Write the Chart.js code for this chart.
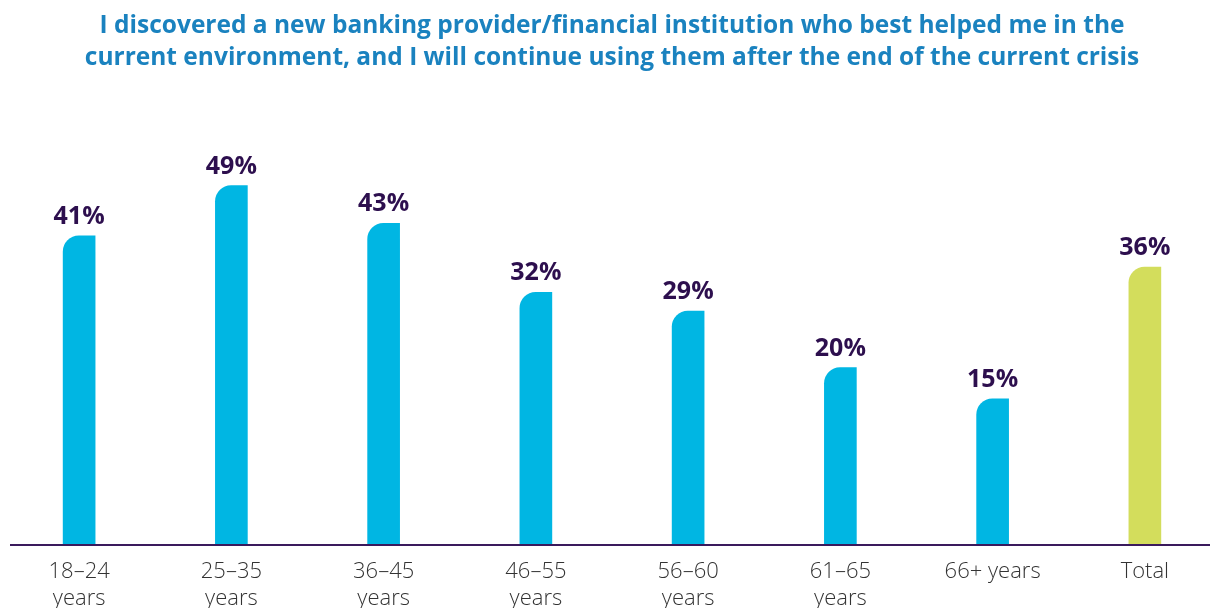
<!DOCTYPE html>
<html>
<head>
<meta charset="utf-8">
<script src="https://cdn.jsdelivr.net/npm/chart.js@4.4.1/dist/chart.umd.min.js"></script>
<style>
  html, body { margin: 0; padding: 0; background: #ffffff; overflow: hidden; }
  #wrap { position: absolute; left: 0; top: 0; width: 1224px; height: 608px; }
</style>
</head>
<body>
<div id="wrap"><canvas id="c"></canvas></div>
<script>
// ---- data ----
const titleLines = [
  "I discovered a new banking provider/financial institution who best helped me in the",
  "current environment, and I will continue using them after the end of the current crisis"
];
const categories = [["18–24", "years"], ["25–35", "years"], ["36–45", "years"], ["46–55", "years"], ["56–60", "years"], ["61–65", "years"], "66+ years", "Total"];
const values = [41, 49, 43, 32, 29, 20, 15, 36];
const barColors = ["#00b6e3", "#00b6e3", "#00b6e3", "#00b6e3", "#00b6e3", "#00b6e3", "#00b6e3", "#d3dd5c"];

const Y_MIN = -8.3;
const Y_MAX = 60;

const valueLabels = {
  id: 'valueLabels',
  afterDatasetsDraw(chart) {
    const ctx = chart.ctx;
    const meta = chart.getDatasetMeta(0);
    ctx.save();
    ctx.fillStyle = '#2d0f4e';
    ctx.font = 'bold 25px "Open Sans", sans-serif';
    ctx.textAlign = 'center';
    ctx.textBaseline = 'alphabetic';
    meta.data.forEach((bar, i) => {
      ctx.fillText(values[i] + '%', bar.x, bar.y - 12);
    });
    ctx.restore();
  }
};

const axisLine = {
  id: 'axisLine',
  afterDatasetsDraw(chart) {
    const ctx = chart.ctx;
    const y = chart.scales.y.getPixelForValue(Y_MIN);
    ctx.save();
    ctx.strokeStyle = '#3a1a5c';
    ctx.lineWidth = 2;
    ctx.beginPath();
    ctx.moveTo(10, y);
    ctx.lineTo(1224, y);
    ctx.stroke();
    ctx.restore();
  }
};

new Chart(document.getElementById('c'), {
  type: 'bar',
  data: {
    labels: categories,
    datasets: [{
      data: values,
      base: Y_MIN,
      backgroundColor: barColors,
      barThickness: 32,
      borderRadius: { topLeft: 26, topRight: 0, bottomLeft: 0, bottomRight: 0 },
      borderSkipped: false
    }]
  },
  options: {
    responsive: true,
    maintainAspectRatio: false,
    animation: false,
    layout: { padding: { left: 3, right: 3, top: 0, bottom: 0 } },
    plugins: {
      legend: { display: false },
      tooltip: { enabled: false },
      title: {
        display: true,
        text: titleLines,
        color: '#1a82bf',
        font: { family: '"Open Sans", sans-serif', size: 24.5, weight: 'bold', lineHeight: 1.3 },
        padding: { top: 10, bottom: 43 }
      }
    },
    scales: {
      x: {
        grid: { display: false },
        border: { display: false },
        ticks: {
          color: '#333333',
          font: { family: '"Open Sans", sans-serif', size: 22, weight: '300', lineHeight: 1.23 },
          padding: 5,
          maxRotation: 0,
          autoSkip: false
        },
        afterFit(s) { s.height = 63; }
      },
      y: {
        display: false,
        min: Y_MIN,
        max: Y_MAX
      }
    }
  },
  plugins: [valueLabels, axisLine]
});
</script>
</body>
</html>
